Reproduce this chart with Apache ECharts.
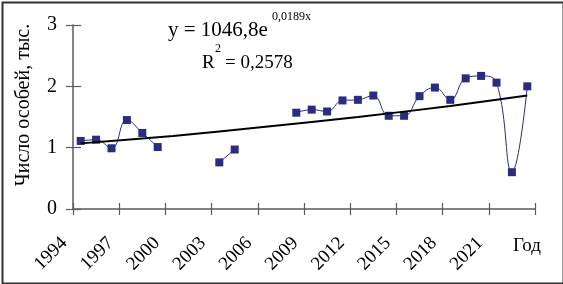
<!DOCTYPE html>
<html>
<head>
<meta charset="utf-8">
<script src="https://cdn.jsdelivr.net/npm/echarts@6/dist/echarts.min.js"></script>
<style>
  html, body { margin: 0; padding: 0; background: #fff; }
  #chart { width: 563px; height: 284px; }
</style>
</head>
<body>
<div id="chart"></div>
<script>
// годы наблюдений
const years = ['1994', '1995', '1996', '1997', '1998', '1999', '2000', '2001', '2002', '2003',
    '2004', '2005', '2006', '2007', '2008', '2009', '2010', '2011', '2012', '2013',
    '2014', '2015', '2016', '2017', '2018', '2019', '2020', '2021', '2022', '2023'];
// численность, тыс. особей (пропуски = нет данных)
const counts = [1.11, 1.13, 0.99, 1.45, 1.24, 1.01, null, null, null, 0.76,
    0.97, null, null, null, 1.57, 1.62, 1.59, 1.77, 1.78, 1.85,
    1.52, 1.52, 1.84, 1.98, 1.78, 2.13, 2.17, 2.06, 0.60, 2.00];
// точки линии тренда
const trendYears = ['1994', '2000', '2006', '2012', '2018', '2023'];
const trendValues = [1.07, 1.19, 1.34, 1.50, 1.68, 1.85];

const FONT = 'Liberation Serif';
const AXIS_COLOR = '#5a5a5a';
const NAVY = '#2b2b80';
const GRID = { left: 73, right: 28, top: 25, bottom: 75 };

var dom = document.getElementById('chart');
var myChart = echarts.init(dom, null, { renderer: 'canvas' });

const option = {
    animation: false,
    textStyle: { fontFamily: FONT, color: '#000' },
    // второй grid только для внутренних засечек (засечки пересекают ось)
    grid: [Object.assign({}, GRID), Object.assign({}, GRID)],
    xAxis: [
        {
            type: 'category',
            gridIndex: 0,
            data: years,
            boundaryGap: true,
            axisLine: { show: true, onZero: false, lineStyle: { color: AXIS_COLOR, width: 1.5 } },
            axisTick: { show: true, interval: 2, length: 6, lineStyle: { color: AXIS_COLOR, width: 1.2 } },
            axisLabel: {
                interval: 2,
                rotate: 45,
                margin: 15,
                padding: [0, 23, 0, 0],
                fontFamily: FONT,
                fontSize: 19,
                color: '#000'
            },
            splitLine: { show: false }
        },
        {
            type: 'category',
            gridIndex: 1,
            data: years,
            boundaryGap: true,
            axisLine: { show: false, onZero: false },
            axisTick: { show: true, inside: true, interval: 2, length: 6, lineStyle: { color: AXIS_COLOR, width: 1.2 } },
            axisLabel: { show: false },
            splitLine: { show: false }
        }
    ],
    yAxis: [
        {
            type: 'value',
            gridIndex: 0,
            min: 0,
            max: 3,
            interval: 1,
            name: 'Число особей, тыс.',
            nameLocation: 'middle',
            nameGap: 39,
            nameTextStyle: { fontFamily: FONT, fontSize: 20, color: '#000', padding: [0, 0, 0, 24] },
            axisLine: { show: true, lineStyle: { color: AXIS_COLOR, width: 1.5 } },
            axisTick: { show: true, length: 7, lineStyle: { color: AXIS_COLOR, width: 1.2 } },
            axisLabel: { margin: 16, fontFamily: FONT, fontSize: 20, color: '#000' },
            splitLine: { show: false }
        },
        {
            type: 'value',
            gridIndex: 1,
            min: 0,
            max: 3,
            interval: 1,
            axisLine: { show: false },
            axisTick: { show: true, inside: true, length: 8, lineStyle: { color: AXIS_COLOR, width: 1.2 } },
            axisLabel: { show: false },
            splitLine: { show: false }
        }
    ],
    series: [
        {
            name: 'Число особей',
            type: 'line',
            xAxisIndex: 0,
            yAxisIndex: 0,
            data: counts,
            smooth: 0.45,
            connectNulls: false,
            symbol: 'rect',
            symbolSize: 8,
            itemStyle: { color: NAVY },
            lineStyle: { color: NAVY, width: 1 },
            z: 3
        },
        {
            name: 'Тренд',
            type: 'line',
            xAxisIndex: 0,
            yAxisIndex: 0,
            data: trendYears.map((y, i) => [y, trendValues[i]]),
            smooth: 0.3,
            symbol: 'none',
            lineStyle: { color: '#000', width: 2 },
            z: 4
        }
    ],
    graphic: [
        {
            type: 'rect',
            left: 0, top: 0,
            shape: { x: 1, y: 1, width: 561, height: 281 },
            style: { fill: 'none', stroke: '#333', lineWidth: 2 },
            silent: true
        },
        {
            type: 'text', left: 513, top: 237,
            style: { text: 'Год', fontFamily: FONT, fontSize: 19, fill: '#000' }
        },
        {
            type: 'text', left: 168, top: 20,
            style: { text: 'y = 1046,8e', fontFamily: FONT, fontSize: 21, fill: '#000' }
        },
        {
            type: 'text', left: 272, top: 11,
            style: { text: '0,0189x', fontFamily: FONT, fontSize: 12, fill: '#000' }
        },
        {
            type: 'text', left: 202, top: 54,
            style: { text: 'R', fontFamily: FONT, fontSize: 19, fill: '#000' }
        },
        {
            type: 'text', left: 215, top: 43,
            style: { text: '2', fontFamily: FONT, fontSize: 12, fill: '#000' }
        },
        {
            type: 'text', left: 225, top: 54,
            style: { text: '= 0,2578', fontFamily: FONT, fontSize: 19, fill: '#000' }
        }
    ]
};

myChart.setOption(option);
window.addEventListener('resize', myChart.resize);
</script>
</body>
</html>
